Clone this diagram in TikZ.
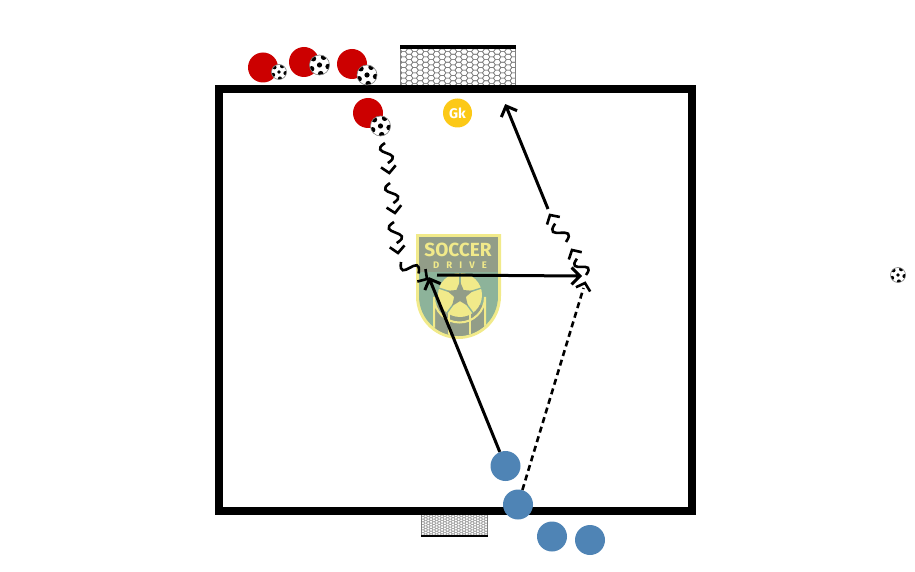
\documentclass[tikz,border=0pt]{standalone}
\usepackage{fontspec}
\setmainfont{Fira Sans}
\usetikzlibrary{calc,shapes.geometric}

\definecolor{redplayer}{HTML}{CC0000}
\definecolor{blueplayer}{HTML}{4F84B5}
\definecolor{keeper}{HTML}{FCC917}
\definecolor{logoyellow}{HTML}{F1EA8A}
\definecolor{loggrey}{HTML}{929D88}
\definecolor{loggreen}{HTML}{8DB39A}

% honeycomb net, column pitch #5, row step #6, line colour #7
\newcommand{\netcells}[7]{%
  \begin{scope}
    \clip (#1,#2) rectangle (#3,#4);
    \foreach \row in {0,...,20}{
      \foreach \col in {-1,...,13}{
        \pgfmathsetmacro{\cx}{#1+\col*#5+mod(\row,2)*#5/2}
        \pgfmathsetmacro{\cy}{#2+\row*#6}
        \draw[#7,line width=.6pt] (\cx,\cy) -- ++(#5/6,-#6) -- ++(#5/3,0) -- ++(#5/6,#6)
          -- ++(-#5/6,#6) -- ++(-#5/3,0) -- cycle;
      }
    }
  \end{scope}}

\begin{document}
\begin{tikzpicture}[x=1pt,y=-1pt,
    redman/.style={circle,fill=redplayer,inner sep=0,minimum size=30},
    blueman/.style={circle,fill=blueplayer,inner sep=0,minimum size=30},
    keeperman/.style={circle,fill=keeper,inner sep=0,minimum size=29,text=white,font=\bfseries\fontsize{14}{14}\selectfont},
    socball/.style={circle,draw=gray,line width=.6pt,fill=white,inner sep=0,minimum size=#1,
        path picture={
          \fill[black] (path picture bounding box.center) circle (.13*#1);
          \foreach \a in {10,82,154,226,298}
            \fill[black] (path picture bounding box.center) ++(\a:.44*#1) circle (.14*#1);
        }},
    chevron/.style={line width=2.6pt,
        to path={ ($(\tikztotarget)!10pt!48:(\tikztostart)$) -- (\tikztotarget)
          -- ($(\tikztotarget)!10pt!-48:(\tikztostart)$)}},
    runline/.style={line width=2.6pt,
        to path={ .. controls ($(\tikztostart)!1.1!-65:($(\tikztotarget)!10pt!(\tikztostart)$)$)
          and ($($(\tikztotarget)!10pt!(\tikztostart)$)!1.1!-65:(\tikztostart)$)
          .. ($(\tikztotarget)!10pt!(\tikztostart)$)
          ($(\tikztotarget)!10pt!48:(\tikztostart)$) -- (\tikztotarget)
          -- ($(\tikztotarget)!10pt!-48:(\tikztostart)$)}},
    passline/.style={line width=3pt,
        to path={ -- (\tikztotarget)
          ($(\tikztotarget)!12pt!45:(\tikztostart)$) -- (\tikztotarget)
          -- ($(\tikztotarget)!12pt!-45:(\tikztostart)$)}},
  ]
  \useasboundingbox (0,0) rectangle (915,572);

  % badge in the middle
  \fill[logoyellow] (416,234) -- (501,234) -- (501,296) .. controls (501,322) and (480,339) .. (458.5,339)
    .. controls (437,339) and (416,322) .. (416,296) -- cycle;
  \begin{scope}
    \clip (419,272) -- (498,272) -- (498,296) .. controls (498,320) and (478,336) .. (458.5,336)
      .. controls (439,336) and (419,320) .. (419,296) -- cycle;
    \fill[loggreen] (419,272) rectangle (498,340);
    \fill[loggrey] (434,305) rectangle (485,340);
    \draw[logoyellow,line width=2pt] (434,340) -- (434,297) arc[start angle=180,end angle=0,radius=25.5] -- (485,340);
    \draw[logoyellow,line width=2pt] (449,310) -- (449,340) (469.5,310) -- (469.5,340);
  \end{scope}
  \fill[loggrey] (419,237) rectangle (498,272);
  \node[circle,fill=logoyellow,inner sep=0,minimum size=44] (logoball) at (460,295) {};
  \foreach \a in {-90,-18,54,126,198}
    \draw[loggreen,line width=1.4pt] (logoball.center) -- ++(\a:22);
  \node[star,star points=5,star point ratio=2.2,fill=loggrey,inner sep=0,minimum size=27] (logostar) at (460,295) {};
  \node[inner sep=0,text=logoyellow,font=\bfseries\fontsize{19}{19}\selectfont] (logotop) at (458,249.5) {SOCCER};
  \node[inner sep=0,text=logoyellow,font=\bfseries\fontsize{9.5}{9.5}\selectfont\addfontfeatures{LetterSpace=75}] (logolow) at (460,265) {DRIVE};

  % goals
  \netcells{400}{49}{515}{85}{11}{2.65}{gray}
  \draw[gray,line width=.8pt] (400,85) -- (400,46) (515,46) -- (515,85);
  \fill (399.5,45) rectangle (515.5,49.5);
  \netcells{421}{515}{487}{536}{5.5}{1.35}{gray!70}
  \draw[gray,line width=.8pt] (421,515) -- (421,536) (487,515) -- (487,536);
  \fill (420.5,535) rectangle (487.5,537);

  % field
  \draw[line width=8pt] (219,89) rectangle (692,510.5);

  % players
  \node[redman] (red1) at (263,67.5) {};
  \node[redman] (red2) at (304,62) {};
  \node[redman] (red3) at (352,64) {};
  \node[redman] (red4) at (368,113) {};
  \node[socball=15] (ball1) at (279,72) {};
  \node[socball=20] (ball2) at (319.5,65) {};
  \node[socball=20] (ball3) at (367,75) {};
  \node[socball=20] (ball4) at (380.5,126) {};
  \node[socball=15] (ball5) at (898,275) {};
  \node[keeperman] (gk) at (457.5,113) {Gk};
  \node[blueman] (blue1) at (505.5,466) {};
  \node[blueman] (blue2) at (518,504.5) {};
  \node[blueman] (blue3) at (552,536.5) {};
  \node[blueman] (blue4) at (590,540) {};

  % free ends of the runs and passes
  \coordinate (runa0) at (385,143);
  \coordinate (runa1) at (389.3,173);
  \coordinate (runa1b) at (390,183);
  \coordinate (runa2) at (395,213);
  \coordinate (runa2b) at (394,222);
  \coordinate (runa3) at (398,253);
  \coordinate (runa3b) at (401,262);
  \coordinate (runa4) at (427,279);
  \coordinate (meet) at (429.5,279);
  \coordinate (passa) at (437,275);
  \coordinate (passb) at (580,276);
  \coordinate (runb0) at (585,283);
  \coordinate (runb0e) at (583.5,288);
  \coordinate (runb0b) at (586,275);
  \coordinate (runb1) at (572,250);
  \coordinate (runb1b) at (566,242);
  \coordinate (runb2) at (550,215);
  \coordinate (shotb) at (548,209);
  \coordinate (shote) at (506,106);

  \draw[runline] (runa0) to (runa1);
  \draw[runline] (runa1b) to (runa2);
  \draw[runline] (runa2b) to (runa3);
  \draw[runline] (runa3b) to (runa4);
  \draw[runline] (runb0b) to (runb1);
  \draw[runline] (runb1b) to (runb2);

  \draw[passline] (blue1) to (meet);
  \draw[passline] (passa) to (passb);
  \draw[passline] (shotb) to (shote);
  \draw[line width=2.6pt,dash pattern=on 6pt off 4pt] (blue2) -- (runb0e);
  \draw[chevron] (blue2) to (runb0);
\end{tikzpicture}
\end{document}
